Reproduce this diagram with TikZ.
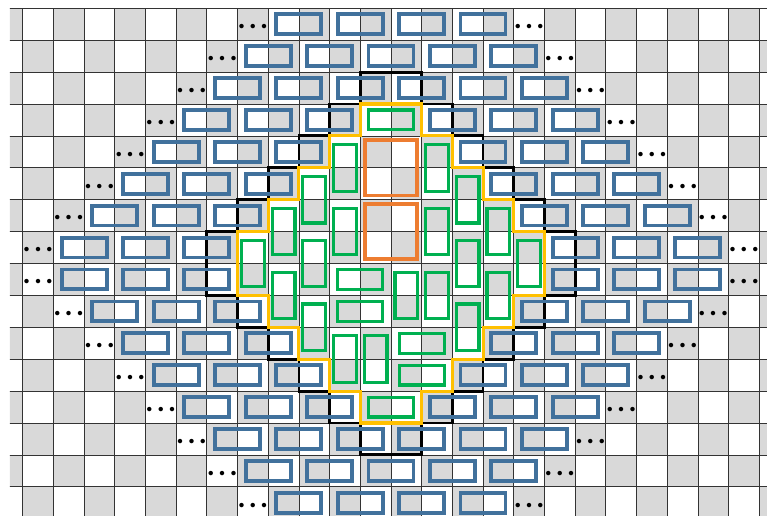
\documentclass[tikz,border=0pt]{standalone}
\usepackage{tikz}
\usetikzlibrary{positioning}
\definecolor{TileBlue}{RGB}{65, 113, 156}
\definecolor{TileGreen}{RGB}{0, 176, 80}
\definecolor{TileOrange}{RGB}{237, 125, 49}
\definecolor{TileGold}{RGB}{255, 192, 0}
\definecolor{CellGray}{RGB}{217, 217, 217}
\begin{document}
\begin{tikzpicture}[
  x=0.9207cm, y=-0.957cm,
  darkcell/.style={fill=CellGray},
  gridline/.style={draw=black!80, line width=0.6pt},
  bluetile/.style={draw=TileBlue, line width=3.3pt},
  greentile/.style={draw=TileGreen, line width=2.7pt},
  squaretile/.style={draw=TileOrange, line width=3.3pt},
  outerrim/.style={draw=black, line width=2.4pt},
  innerrim/.style={draw=TileGold, line width=2.6pt},
  ellipsisdots/.style={inner sep=0pt, font=\fontsize{14}{14}\selectfont}
]
\useasboundingbox (-0.7397,-0.26) rectangle (24.252,15.915);
\begin{scope}
  \clip (-0.414,0) rectangle (24.252,15.915);
  \foreach \row in {0,...,15}
    \foreach \col in {-1,...,24} {
      \pgfmathtruncatemacro\parity{mod(\row+\col+2,2)}
      \ifnum\parity=1 \fill[darkcell] (\col,\row) rectangle ++(1,1); \fi
    }
  \foreach \col in {0,...,24} \draw[gridline] (\col,0) -- (\col,16);
  \foreach \row in {0,...,16} \draw[gridline] (-1,\row) -- (25,\row);
\end{scope}

\draw[outerrim] (11,2) -- ++(2,0) \foreach \i in {1,...,5} {-- ++(0,1) -- ++(1,0)} -- ++(0,2)
  \foreach \i in {1,...,5} {-- ++(-1,0) -- ++(0,1)} -- ++(-2,0)
  \foreach \i in {1,...,5} {-- ++(0,-1) -- ++(-1,0)} -- ++(0,-2)
  \foreach \i in {1,...,5} {-- ++(1,0) -- ++(0,-1)} -- cycle;
\draw[innerrim] (11,3) -- ++(2,0) \foreach \i in {1,...,4} {-- ++(0,1) -- ++(1,0)} -- ++(0,2)
  \foreach \i in {1,...,4} {-- ++(-1,0) -- ++(0,1)} -- ++(-2,0)
  \foreach \i in {1,...,4} {-- ++(0,-1) -- ++(-1,0)} -- ++(0,-2)
  \foreach \i in {1,...,4} {-- ++(1,0) -- ++(0,-1)} -- cycle;

\foreach \row in {0,...,15} {
  \pgfmathtruncatemacro\firstc{abs(\row-7.5)+0.5}
  \pgfmathtruncatemacro\nextc{\firstc+2}
  \pgfmathtruncatemacro\lastc{22-\firstc}
  \foreach \col in {\firstc,\nextc,...,\lastc} {
    \pgfmathtruncatemacro\dist{abs(\col-11.5)+abs(\row-7.5)}
    \ifnum\dist>5 \draw[bluetile] (\col+0.267,\row+0.19) rectangle (\col+1.733,\row+0.81); \fi
  }
  \pgfmathtruncatemacro\leftc{\firstc-1}
  \pgfmathtruncatemacro\rightc{24-\firstc}
  \node[ellipsisdots] (dotsL-\row) at (\leftc+0.5,\row+0.6) {\textbullet\kern-1pt\textbullet\kern-1pt\textbullet};
  \node[ellipsisdots] (dotsR-\row) at (\rightc+0.5,\row+0.6) {\textbullet\kern-1pt\textbullet\kern-1pt\textbullet};
}

\foreach \col/\row in {10/4,13/4,9/5,14/5,8/6,10/6,13/6,15/6,7/7,9/7,14/7,16/7,8/8,12/8,13/8,15/8,9/9,14/9,10/10,11/10}
  \draw[greentile] (\col+0.13,\row+0.27) rectangle (\col+0.87,\row+1.73);
\foreach \col/\row in {11/3,10/8,10/9,12/10,12/11,11/12}
  \draw[greentile] (\col+0.267,\row+0.19) rectangle (\col+1.733,\row+0.81);
\foreach \row in {4,6}
  \draw[squaretile] (11.14,\row+0.13) rectangle (12.86,\row+1.87);
\end{tikzpicture}
\end{document}
